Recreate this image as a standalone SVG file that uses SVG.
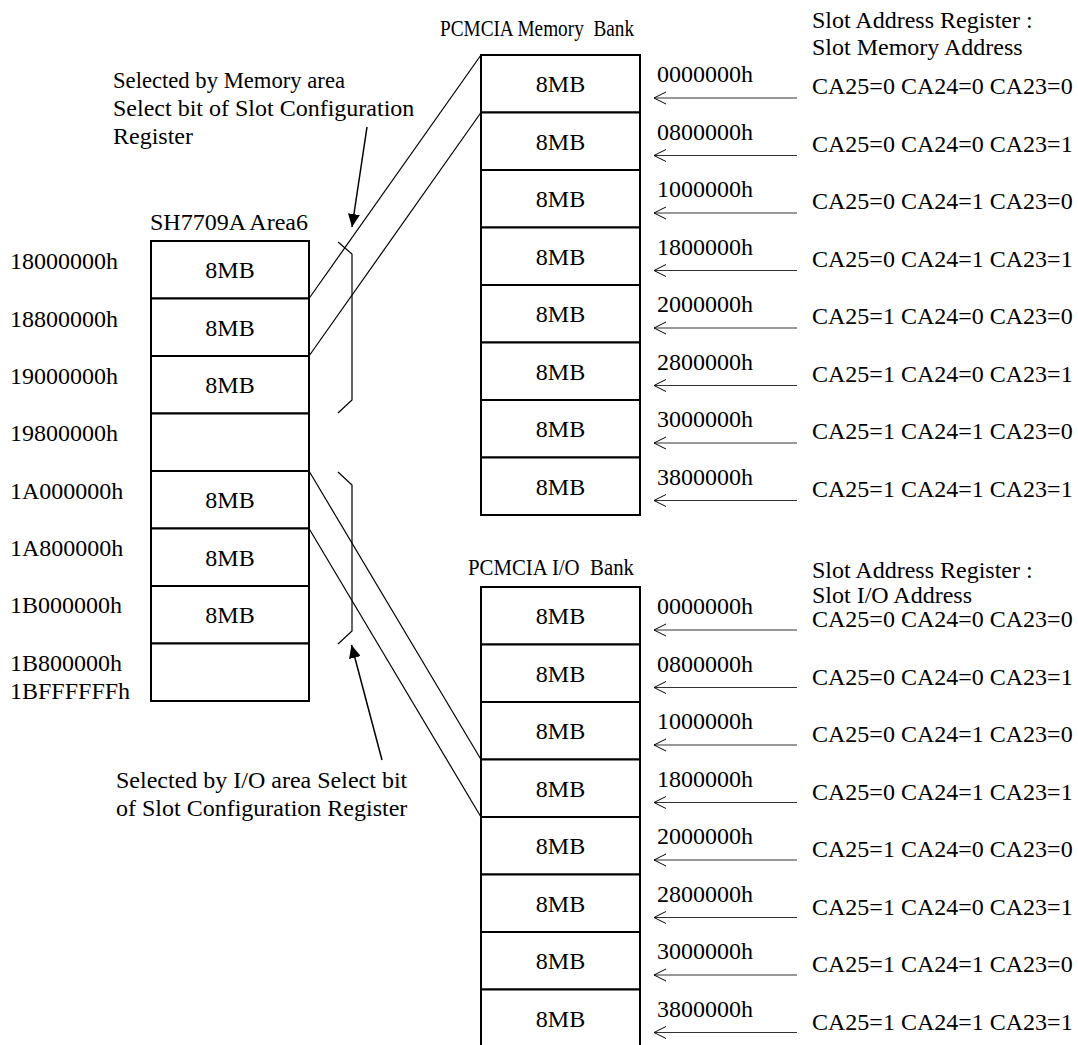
<svg xmlns="http://www.w3.org/2000/svg" width="1078" height="1045" viewBox="0 0 1078 1045">
<defs>
<marker id="open" markerWidth="14" markerHeight="14" refX="1" refY="7" orient="auto" markerUnits="userSpaceOnUse">
<path d="M13,1 L1,7 L13,13" fill="none" stroke="#000" stroke-width="1"/>
</marker>
<marker id="solid" markerWidth="14" markerHeight="12" refX="13" refY="6" orient="auto" markerUnits="userSpaceOnUse">
<path d="M0,0 L13,6 L0,12 Z" fill="#000"/>
</marker>
</defs>
<style>
text{font-family:"Liberation Serif","Times New Roman",serif;font-size:24px;fill:#000}
.c{text-anchor:middle}
.hd{white-space:pre;font-size:23px}
.box{fill:#fff;stroke:#000;stroke-width:2}
.ln{stroke:#000;stroke-width:1.2;fill:none}
.ar{stroke:#333;stroke-width:1.2;fill:none;marker-start:url(#open)}
.sel{stroke:#000;stroke-width:1.5;fill:none;marker-end:url(#solid)}
</style>
<rect width="1078" height="1045" fill="#fff"/>

<g id="area6">
<text x="150" y="230">SH7709A Area6</text>
<rect class="box" x="151" y="241" width="158" height="57.5"/>
<rect class="box" x="151" y="298.5" width="158" height="57.5"/>
<rect class="box" x="151" y="356" width="158" height="57.5"/>
<rect class="box" x="151" y="413.5" width="158" height="57.5"/>
<rect class="box" x="151" y="471" width="158" height="57.5"/>
<rect class="box" x="151" y="528.5" width="158" height="57.5"/>
<rect class="box" x="151" y="586" width="158" height="57.5"/>
<rect class="box" x="151" y="643.5" width="158" height="57.5"/>
<text class="c" x="230" y="278">8MB</text>
<text class="c" x="230" y="335.5">8MB</text>
<text class="c" x="230" y="393">8MB</text>
<text class="c" x="230" y="508">8MB</text>
<text class="c" x="230" y="565.5">8MB</text>
<text class="c" x="230" y="623">8MB</text>
<text x="10" y="269">18000000h</text>
<text x="10" y="326.5">18800000h</text>
<text x="10" y="384">19000000h</text>
<text x="10" y="441">19800000h</text>
<text x="10" y="498.5">1A000000h</text>
<text x="10" y="556">1A800000h</text>
<text x="10" y="613">1B000000h</text>
<text x="10" y="671">1B800000h</text>
<text x="10" y="699">1BFFFFFFh</text>
</g>

<g id="memory-bank">
<text class="hd" x="440" y="36" textLength="194" lengthAdjust="spacingAndGlyphs">PCMCIA Memory  Bank</text>
<text x="812" y="28">Slot Address Register :</text>
<text x="812" y="55">Slot Memory Address</text>
<rect class="box" x="481" y="55" width="159" height="57.5"/>
<rect class="box" x="481" y="112.5" width="159" height="57.5"/>
<rect class="box" x="481" y="170" width="159" height="57.5"/>
<rect class="box" x="481" y="227.5" width="159" height="57.5"/>
<rect class="box" x="481" y="285" width="159" height="57.5"/>
<rect class="box" x="481" y="342.5" width="159" height="57.5"/>
<rect class="box" x="481" y="400" width="159" height="57.5"/>
<rect class="box" x="481" y="457.5" width="159" height="57.5"/>
<text class="c" x="560.5" y="92">8MB</text>
<text class="c" x="560.5" y="149.5">8MB</text>
<text class="c" x="560.5" y="207">8MB</text>
<text class="c" x="560.5" y="264.5">8MB</text>
<text class="c" x="560.5" y="322">8MB</text>
<text class="c" x="560.5" y="379.5">8MB</text>
<text class="c" x="560.5" y="437">8MB</text>
<text class="c" x="560.5" y="494.5">8MB</text>
<text x="657" y="82">0000000h</text>
<text x="657" y="139.5">0800000h</text>
<text x="657" y="197">1000000h</text>
<text x="657" y="254.5">1800000h</text>
<text x="657" y="312">2000000h</text>
<text x="657" y="369.5">2800000h</text>
<text x="657" y="427">3000000h</text>
<text x="657" y="484.5">3800000h</text>
<text x="812" y="94">CA25=0 CA24=0 CA23=0</text>
<text x="812" y="151.5">CA25=0 CA24=0 CA23=1</text>
<text x="812" y="209">CA25=0 CA24=1 CA23=0</text>
<text x="812" y="266.5">CA25=0 CA24=1 CA23=1</text>
<text x="812" y="324">CA25=1 CA24=0 CA23=0</text>
<text x="812" y="381.5">CA25=1 CA24=0 CA23=1</text>
<text x="812" y="439">CA25=1 CA24=1 CA23=0</text>
<text x="812" y="496.5">CA25=1 CA24=1 CA23=1</text>
</g>

<g id="io-bank">
<text class="hd" x="468" y="575" textLength="166" lengthAdjust="spacingAndGlyphs">PCMCIA I/O  Bank</text>
<text x="812" y="578">Slot Address Register :</text>
<text x="812" y="603">Slot I/O Address</text>
<rect class="box" x="481" y="587" width="159" height="57.5"/>
<rect class="box" x="481" y="644.5" width="159" height="57.5"/>
<rect class="box" x="481" y="702" width="159" height="57.5"/>
<rect class="box" x="481" y="759.5" width="159" height="57.5"/>
<rect class="box" x="481" y="817" width="159" height="57.5"/>
<rect class="box" x="481" y="874.5" width="159" height="57.5"/>
<rect class="box" x="481" y="932" width="159" height="57.5"/>
<rect class="box" x="481" y="989.5" width="159" height="57.5"/>
<text class="c" x="560.5" y="624">8MB</text>
<text class="c" x="560.5" y="681.5">8MB</text>
<text class="c" x="560.5" y="739">8MB</text>
<text class="c" x="560.5" y="796.5">8MB</text>
<text class="c" x="560.5" y="854">8MB</text>
<text class="c" x="560.5" y="911.5">8MB</text>
<text class="c" x="560.5" y="969">8MB</text>
<text class="c" x="560.5" y="1026.5">8MB</text>
<text x="657" y="614">0000000h</text>
<text x="657" y="671.5">0800000h</text>
<text x="657" y="729">1000000h</text>
<text x="657" y="786.5">1800000h</text>
<text x="657" y="844">2000000h</text>
<text x="657" y="901.5">2800000h</text>
<text x="657" y="959">3000000h</text>
<text x="657" y="1016.5">3800000h</text>
<text x="812" y="627">CA25=0 CA24=0 CA23=0</text>
<text x="812" y="684.5">CA25=0 CA24=0 CA23=1</text>
<text x="812" y="742">CA25=0 CA24=1 CA23=0</text>
<text x="812" y="799.5">CA25=0 CA24=1 CA23=1</text>
<text x="812" y="857">CA25=1 CA24=0 CA23=0</text>
<text x="812" y="914.5">CA25=1 CA24=0 CA23=1</text>
<text x="812" y="972">CA25=1 CA24=1 CA23=0</text>
<text x="812" y="1029.5">CA25=1 CA24=1 CA23=1</text>
</g>

<g id="mem-select-note">
<text x="113" y="88" textLength="232" lengthAdjust="spacingAndGlyphs">Selected by Memory area</text>
<text x="113" y="116">Select bit of Slot Configuration</text>
<text x="113" y="144">Register</text>
</g>
<g id="io-select-note">
<text x="116" y="788">Selected by I/O area Select bit</text>
<text x="116" y="816">of Slot Configuration Register</text>
</g>

<g id="connectors">
<line class="ln" x1="309" y1="298.5" x2="481" y2="55"/>
<line class="ln" x1="309" y1="356" x2="481" y2="112.5"/>
<line class="ln" x1="309" y1="471" x2="481" y2="759.5"/>
<line class="ln" x1="309" y1="528.5" x2="481" y2="817"/>
<path class="ln" d="M338,242 L352,254 L352,400 L338,413"/>
<path class="ln" d="M338,472 L352,485 L352,631 L338,644"/>
<line class="sel" x1="367" y1="127" x2="352" y2="227"/>
<line class="sel" x1="382" y1="760" x2="351.5" y2="645"/>
<line class="ar" x1="654" y1="98" x2="797" y2="98"/>
<line class="ar" x1="654" y1="155.5" x2="797" y2="155.5"/>
<line class="ar" x1="654" y1="213" x2="797" y2="213"/>
<line class="ar" x1="654" y1="270.5" x2="797" y2="270.5"/>
<line class="ar" x1="654" y1="328" x2="797" y2="328"/>
<line class="ar" x1="654" y1="385.5" x2="797" y2="385.5"/>
<line class="ar" x1="654" y1="443" x2="797" y2="443"/>
<line class="ar" x1="654" y1="500.5" x2="797" y2="500.5"/>
<line class="ar" x1="654" y1="630" x2="797" y2="630"/>
<line class="ar" x1="654" y1="687.5" x2="797" y2="687.5"/>
<line class="ar" x1="654" y1="745" x2="797" y2="745"/>
<line class="ar" x1="654" y1="802.5" x2="797" y2="802.5"/>
<line class="ar" x1="654" y1="860" x2="797" y2="860"/>
<line class="ar" x1="654" y1="917.5" x2="797" y2="917.5"/>
<line class="ar" x1="654" y1="975" x2="797" y2="975"/>
<line class="ar" x1="654" y1="1032.5" x2="797" y2="1032.5"/>
</g>
</svg>
